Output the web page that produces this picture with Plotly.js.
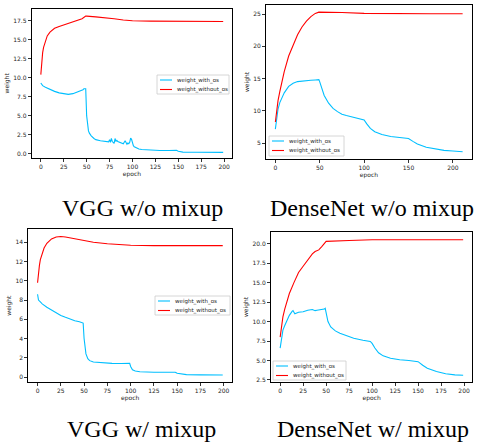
<!DOCTYPE html>
<html><head><meta charset="utf-8">
<script src="https://cdn.plot.ly/plotly-3.0.1.min.js"></script>
<style>html,body{margin:0;padding:0;background:#fff}#plot{width:477px;height:442px}</style>
</head><body><div id="plot"></div>
<script>
// ---- VGG w/o mixup ----
const vggNoMixRedX = [0,1,2,3,5,7,10,15,20,25,30,35,40,45,49,50,60,70,80,90,100,120,150,175,199];
const vggNoMixRedY = [10.4,12.2,13.3,14.0,14.9,15.5,16.0,16.5,16.75,16.95,17.1,17.25,17.45,17.75,18.1,18.1,18.0,17.9,17.75,17.6,17.5,17.45,17.4,17.4,17.4];
const vggNoMixBlueX = [0,1,2,5,10,15,20,25,30,35,40,44,46,47,48,49,50,51,52,53,55,58,60,65,70,74,75,76,77,78,80,81,82,83,84,85,87,88,90,92,93,94,95,96,97,98,99,100,101,102,104,107,110,120,130,140,145,148,150,152,155,170,185,199];
const vggNoMixBlueY = [9.3,9.0,8.95,8.75,8.45,8.2,8.0,7.9,7.8,7.9,8.1,8.3,8.4,8.55,8.5,8.55,5.0,3.6,3.0,2.7,2.35,2.0,1.85,1.7,1.6,1.55,1.85,1.5,2.0,1.6,1.35,2.0,1.6,1.75,1.6,1.55,1.5,1.35,1.3,1.7,1.5,1.25,1.4,1.3,1.5,2.05,1.9,1.3,1.05,0.9,0.75,0.62,0.55,0.45,0.42,0.42,0.45,0.45,0.32,0.24,0.2,0.18,0.17,0.17];
// ---- DenseNet w/o mixup ----
const denseNoMixRedX = [0,1,2,3,5,7,10,15,20,25,30,35,40,45,49,50,60,75,100,125,150,175,211];
const denseNoMixRedY = [8.3,9.6,10.6,11.6,13.0,14.3,16.1,18.5,20.3,21.8,23.0,23.9,24.6,25.1,25.3,25.3,25.3,25.25,25.1,25.05,25.05,25.05,25.05];
const denseNoMixBlueX = [0,1,2,3,5,7,10,15,20,25,30,35,40,45,49,50,52,55,60,65,70,75,80,90,99,100,103,107,112,120,130,140,149,150,155,160,170,180,190,200,211];
const denseNoMixBlueY = [7.2,8.5,9.5,10.3,11.3,12.0,12.8,13.8,14.3,14.55,14.65,14.7,14.75,14.8,14.85,14.5,13.6,12.4,11.2,10.4,9.9,9.5,9.3,8.95,8.7,8.6,8.0,7.3,6.8,6.35,6.05,5.9,5.8,5.75,5.3,4.9,4.4,4.1,3.9,3.8,3.7];
// ---- VGG w/ mixup ----
const vggMixRedX = [0,1,2,3,5,7,10,15,20,25,30,35,40,50,60,75,100,125,150,175,199];
const vggMixRedY = [9.8,10.9,11.6,12.2,12.9,13.4,13.9,14.35,14.55,14.6,14.55,14.45,14.35,14.15,14.0,13.85,13.7,13.65,13.65,13.65,13.65];
const vggMixBlueX = [0,1,3,5,10,15,20,25,30,35,40,45,48,49,50,51,52,54,56,60,70,80,90,98,99,100,101,102,105,110,125,148,150,155,160,175,199];
const vggMixBlueY = [8.6,8.0,7.8,7.6,7.25,6.95,6.65,6.4,6.2,6.0,5.85,5.75,5.65,5.6,4.0,3.0,2.4,1.9,1.7,1.55,1.45,1.42,1.4,1.4,1.42,1.1,0.85,0.75,0.62,0.55,0.5,0.5,0.38,0.3,0.25,0.22,0.2];
// ---- DenseNet w/ mixup ----
const denseMixRedX = [0,1,2,3,5,7,10,15,20,25,30,35,38,40,42,45,49,50,75,100,125,150,175,199];
const denseMixRedY = [8.0,9.0,9.9,10.6,11.6,12.5,13.6,15.0,16.3,17.1,17.9,18.7,19.0,19.1,19.2,19.6,20.2,20.3,20.4,20.5,20.5,20.5,20.5,20.5];
const denseMixBlueX = [0,1,2,3,5,8,10,13,14,15,16,18,20,25,28,30,35,38,40,45,48,49,50,52,55,60,65,70,75,80,90,98,100,103,107,112,120,130,140,149,150,155,160,170,180,190,199];
const denseMixBlueY = [6.6,7.6,8.3,8.9,9.5,10.3,10.8,11.3,11.4,11.2,11.0,11.1,11.2,11.25,11.4,11.45,11.55,11.4,11.45,11.5,11.6,11.7,11.2,10.0,9.3,8.8,8.5,8.25,8.0,7.85,7.6,7.45,7.2,6.6,6.0,5.6,5.3,5.1,5.0,4.95,4.85,4.4,4.0,3.6,3.3,3.15,3.1];

const seriesNames = ['weight_with_os','weight_without_os'];
const captions = ['VGG w/o mixup','DenseNet w/o mixup','VGG w/ mixup','DenseNet w/ mixup'];

const BLUE = '#00bfff', RED = '#ff0000';
const W = 477, H = 442;
const panels = [
  {bx: vggNoMixBlueX, by: vggNoMixBlueY, rx: vggNoMixRedX, ry: vggNoMixRedY},
  {bx: denseNoMixBlueX, by: denseNoMixBlueY, rx: denseNoMixRedX, ry: denseNoMixRedY},
  {bx: vggMixBlueX, by: vggMixBlueY, rx: vggMixRedX, ry: vggMixRedY},
  {bx: denseMixBlueX, by: denseMixBlueY, rx: denseMixRedX, ry: denseMixRedY}
];
// pixel boxes [left, top, right, bottom]
const boxes = [[31.7,9,232.3,157.7],[266,5,472,159],[28.3,229.3,232,382],[271,232.3,472.3,381.7]];
const xr = [[-9.95,208.95],[-10.55,221.55],[-9.95,208.95],[-9.95,208.95]];
const yr = [[-0.53,19.04],[2.57,26.4],[-0.52,15.35],[2.28,21.46]];
const xt = [[0,25,50,75,100,125,150,175,200],[0,50,100,150,200],[0,25,50,75,100,125,150,175,200],[0,25,50,75,100,125,150,175,200]];
const yt = [[0,2.5,5,7.5,10,12.5,15,17.5],[5,10,15,20,25],[0,2,4,6,8,10,12,14],[2.5,5,7.5,10,12.5,15,17.5,20]];
const yfmt = ['.1f','d','d','.1f'];
// legend boxes [left, top, right, bottom]
const legs = [[157,75,229,94],[269,136,344,156],[155,296,230,315],[273,361,346,380]];

const data = [];
const layout = {width:W, height:H, margin:{l:0,r:0,t:0,b:0}, paper_bgcolor:'#fff', plot_bgcolor:'#fff',
  font:{family:'DejaVu Sans', size:6, color:'#262626'}, annotations:[], shapes:[], hovermode:false, showlegend:false};
const tickFont = {family:'DejaVu Sans', size:6, color:'#262626'};
const px = v => v/W, py = v => 1 - v/H;
panels.forEach((p,i)=>{
  const n = i===0 ? '' : String(i+1);
  data.push({x:p.bx, y:p.by, type:'scatter', mode:'lines', name:seriesNames[0], line:{color:BLUE,width:1.1}, xaxis:'x'+n, yaxis:'y'+n});
  data.push({x:p.rx, y:p.ry, type:'scatter', mode:'lines', name:seriesNames[1], line:{color:RED,width:1.1}, xaxis:'x'+n, yaxis:'y'+n});
  const b = boxes[i];
  layout['xaxis'+n] = {domain:[b[0]/W, b[2]/W], range:xr[i], tickvals:xt[i], ticks:'outside', ticklen:3, tickwidth:0.8, tickcolor:'#000',
    showline:true, mirror:true, linecolor:'#000', linewidth:1, showgrid:false, zeroline:false, tickfont:tickFont,
    anchor:'y'+n, title:{text:'epoch', font:{family:'DejaVu Sans', size:6, color:'#262626'}, standoff:2}};
  layout['yaxis'+n] = {domain:[1-b[3]/H, 1-b[1]/H], range:yr[i], tickvals:yt[i], tickformat:yfmt[i], ticks:'outside', ticklen:3, tickwidth:0.8, tickcolor:'#000',
    showline:true, mirror:true, linecolor:'#000', linewidth:1, showgrid:false, zeroline:false, tickfont:tickFont,
    anchor:'x'+n, title:{text:'weight', font:{family:'DejaVu Sans', size:6, color:'#262626'}, standoff:3}};
  // legend box (drawn like matplotlib's compact legend)
  const L = legs[i];
  layout.shapes.push({type:'rect', xref:'paper', yref:'paper', x0:px(L[0]), x1:px(L[2]), y0:py(L[3]), y1:py(L[1]),
    line:{color:'#cccccc', width:0.8}, fillcolor:'rgba(255,255,255,0.85)', layer:'above'});
  [BLUE, RED].forEach((col,k)=>{
    const yy = L[1] + 5 + k*9.5;
    layout.shapes.push({type:'line', xref:'paper', yref:'paper', x0:px(L[0]+3), x1:px(L[0]+15), y0:py(yy), y1:py(yy),
      line:{color:col, width:1.1}, layer:'above'});
    layout.annotations.push({text:seriesNames[k], xref:'paper', yref:'paper', x:px(L[0]+17.5), y:py(yy), xanchor:'left', yanchor:'middle',
      showarrow:false, font:{family:'DejaVu Sans', size:5.5, color:'#262626'}});
  });
});
const capPos = [[142,208],[372,208],[141.5,429],[373,429]];
captions.forEach((c,i)=>{
  layout.annotations.push({text:c, xref:'paper', yref:'paper', x:capPos[i][0]/W, y:1-capPos[i][1]/H, xanchor:'center', yanchor:'middle',
    showarrow:false, font:{family:'Liberation Serif', size:24, color:'#000'}});
});
Plotly.newPlot('plot', data, layout, {displayModeBar:false, staticPlot:true});
</script></body></html>
